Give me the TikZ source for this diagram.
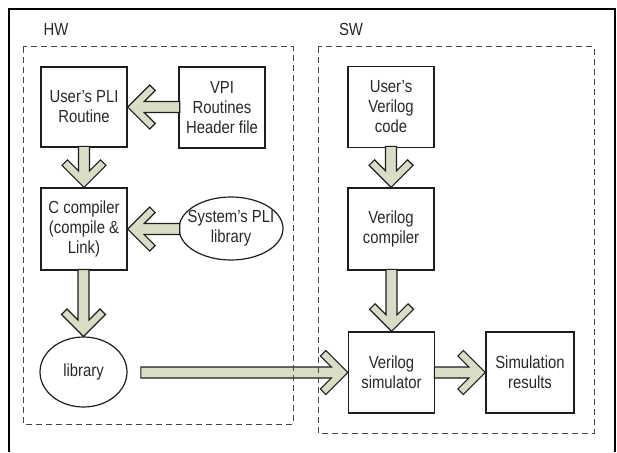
\documentclass[tikz,border=0pt]{standalone}
\usepackage{fontspec}
\setmainfont[FakeStretch=0.85]{Liberation Sans}
\usetikzlibrary{shapes.geometric}
\definecolor{arrfill}{RGB}{216,221,198}
\definecolor{linec}{RGB}{30,30,30}
\definecolor{txtc}{RGB}{40,40,40}
\definecolor{dashc}{RGB}{70,70,70}
\tikzset{
  txt/.style={text=txtc, font=\fontsize{17.5pt}{20pt}\selectfont, align=center, inner sep=0pt},
  boxnode/.style={txt, draw=linec, line width=1.3pt, rectangle, minimum width=86pt},
  ellnode/.style={draw=linec, line width=1.2pt, ellipse, inner sep=0pt},
  blockarr/.style={draw=linec, fill=arrfill, line width=1.2pt, line join=miter},
  dashbox/.style={draw=dashc, line width=1pt, dash pattern=on 6pt off 4pt},
  frameline/.style={draw=black, line width=1.4pt},
}
\newcommand\barrow[3]{%
  \begin{scope}[shift={(#1)},rotate=#3]
    \draw[blockarr] (0,0) -- (-22,22) -- (-27.5,16.5) -- (-16.5,5.5) -- (-#2,5.5)
      -- (-#2,-5.5) -- (-16.5,-5.5) -- (-27.5,-16.5) -- (-22,-22) -- cycle;
  \end{scope}}
\begin{document}
\begin{tikzpicture}[x=1pt,y=-1pt]
  \useasboundingbox (0,0) rectangle (617,452);
  % outer frame
  \draw[frameline] (9,452) -- (9,9) -- (615,9) -- (615,452);
  % labels
  \node[txt] (hw) at (56,29) {HW};
  \node[txt] (sw) at (351,29) {SW};
  % HW nodes
  \node[boxnode, minimum height=80pt] (upli) at (84,107) {User’s PLI\\Routine};
  \node[boxnode, minimum height=81pt] (vpi) at (222,107.5) {VPI\\Routines\\Header file};
  \node[boxnode, minimum height=82pt] (cc) at (84,229) {C compiler\\(compile \&\\Link)};
  \node[ellnode, minimum width=104pt, minimum height=63pt] (spli) at (231,228.5) {};
  \node[txt] (splitxt) at (spli) {System’s PLI\\library};
  \node[ellnode, minimum width=87pt, minimum height=70pt] (lib) at (83.5,372) {};
  \node[txt] (libtxt) at (lib) {library};
  % SW nodes
  \node[boxnode, minimum height=81pt] (uvc) at (391,107) {User’s\\Verilog\\code};
  \node[boxnode, minimum height=82pt] (vc) at (391,229) {Verilog\\compiler};
  \node[boxnode, minimum height=81pt] (vs) at (391.5,372.5) {Verilog\\simulator};
  \node[boxnode, minimum height=81pt, minimum width=88pt] (sr) at (530,372.5) {Simulation\\results};
  % block arrows
  \barrow{upli.east}{52}{180}
  \barrow{cc.north}{41}{-90}
  \barrow{cc.east}{52}{180}
  \barrow{lib.north}{67}{-90}
  \barrow{vc.north}{41}{-90}
  \barrow{vs.north}{62}{-90}
  \barrow{vs.west}{207}{0}
  \barrow{sr.west}{51}{0}
  % dashed groups
  \draw[dashbox] (23,47) rectangle (293,424);
  \draw[dashbox] (318,47) rectangle (594,433);
\end{tikzpicture}
\end{document}
